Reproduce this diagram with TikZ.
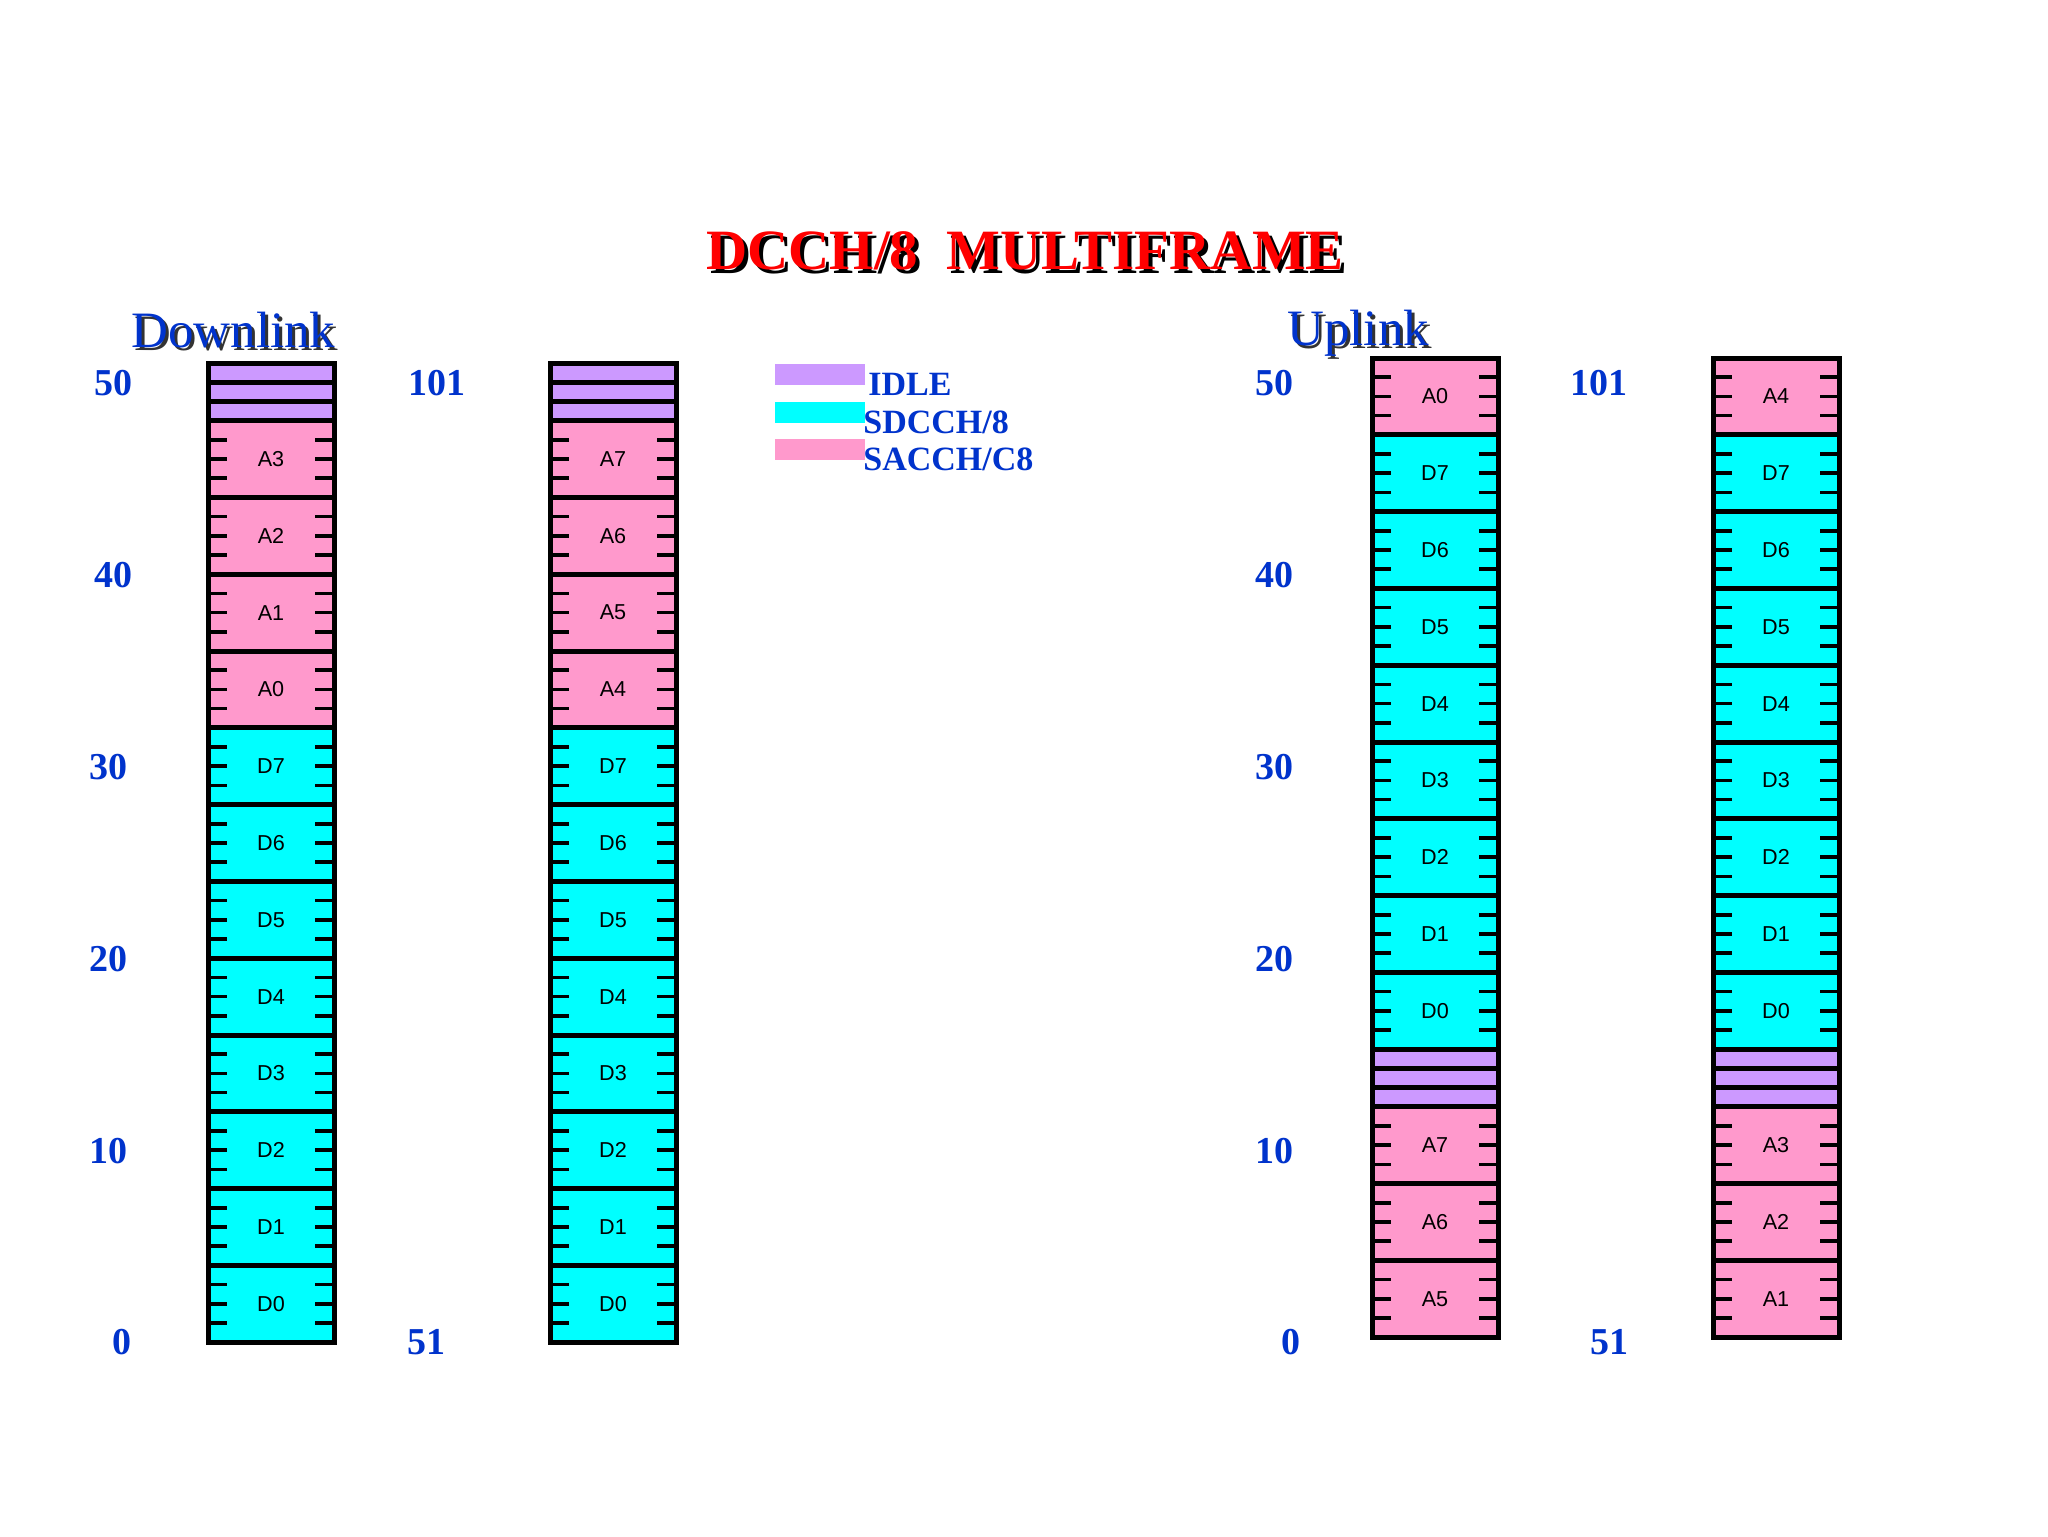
\documentclass[tikz,border=0pt]{standalone}
\usepackage{fontspec}
\setmainfont{Liberation Serif}
\newfontfamily\arialf{Liberation Sans}
\definecolor{idlec}{HTML}{CC99FF}
\definecolor{sdc}{HTML}{00FFFF}
\definecolor{sac}{HTML}{FF99CC}
\definecolor{numblue}{HTML}{0033CC}
\definecolor{titred}{HTML}{FF0000}
\tikzset{
  frameline/.style={line width=2.5pt},
  tickline/.style={line width=1.8pt},
  lbl/.style={font=\arialf\fontsize{10.8}{12}\selectfont, inner sep=0pt},
  num/.style={font=\bfseries\fontsize{19}{20}\selectfont, text=numblue, inner sep=0pt},
  legtxt/.style={font=\bfseries\fontsize{17}{19}\selectfont, text=numblue, inner sep=0pt, anchor=base west},
  legbox/.style={inner sep=0pt, minimum width=45pt, minimum height=10.5pt, anchor=north west},
  head/.style={font=\fontsize{25.5}{28}\selectfont, inner sep=0pt, anchor=base west},
}
% block of 4 frames: #1 name, #2 x left, #3 frame index, #4 column top, #5 colour, #6 label
\newcommand\mfblk[6]{%
  \pgfmathsetmacro\yt{#4+#3*19.2}%
  \pgfmathsetmacro\yb{\yt+4*19.2}%
  \pgfmathsetmacro\xr{#2+126}%
  \filldraw[fill=#5, frameline] (#2,\yt) rectangle (\xr,\yb);
  \foreach \i in {1,2,3}{%
    \pgfmathsetmacro\yy{\yt+\i*19.2}%
    \draw[tickline] (#2,\yy) -- ++(19,0);
    \draw[tickline] (\xr,\yy) -- ++(-19,0);
  }
  \node[lbl] (#1) at ({#2+63},{\yt+38.4}) {#6};
}
% three idle frames: #1 x left, #2 frame index, #3 column top
\newcommand\mfidle[3]{%
  \foreach \i in {0,1,2}{%
    \pgfmathsetmacro\yt{#3+(#2+\i)*19.2}%
    \filldraw[fill=idlec, frameline] (#1,\yt) rectangle ({#1+126},{\yt+19.2});
  }
}
\begin{document}
\begin{tikzpicture}[x=0.5pt,y=-0.5pt]
\useasboundingbox (0,0) rectangle (2048,1536);
\fill[white] (0,0) rectangle (2048,1536);

% title
\node[font=\bfseries\fontsize{28.5}{30}\selectfont, text=black, inner sep=0pt, anchor=base] (titleshadow) at (1029,273) {DCCH/8\ \ MULTIFRAME};
\node[font=\bfseries\fontsize{28.5}{30}\selectfont, text=titred, inner sep=0pt, anchor=base] (title) at (1025,269) {DCCH/8\ \ MULTIFRAME};

% headings
\node[head, text=black!80] (dlshadow) at (134,350) {Downlink};
\node[head, text=numblue] (dl) at (131,347) {Downlink};
\node[head, text=black!80] (ulshadow) at (1290,348) {Uplink};
\node[head, text=numblue] (ul) at (1287,345) {Uplink};

% legend
\node[legbox, fill=idlec] (legidle) at (775,364) {};
\node[legbox, fill=sdc] (legsd) at (775,402) {};
\node[legbox, fill=sac] (legsa) at (775,439) {};
\node[legtxt] (legidlet) at (868,395) {IDLE};
\node[legtxt] (legsdt) at (863,433) {SDCCH/8};
\node[legtxt] (legsat) at (863,470) {SACCH/C8};

% ---- downlink column 1 (x=208, top=363)
\mfidle{208}{0}{363}
\mfblk{d1a3}{208}{3}{363}{sac}{A3}
\mfblk{d1a2}{208}{7}{363}{sac}{A2}
\mfblk{d1a1}{208}{11}{363}{sac}{A1}
\mfblk{d1a0}{208}{15}{363}{sac}{A0}
\mfblk{d1d7}{208}{19}{363}{sdc}{D7}
\mfblk{d1d6}{208}{23}{363}{sdc}{D6}
\mfblk{d1d5}{208}{27}{363}{sdc}{D5}
\mfblk{d1d4}{208}{31}{363}{sdc}{D4}
\mfblk{d1d3}{208}{35}{363}{sdc}{D3}
\mfblk{d1d2}{208}{39}{363}{sdc}{D2}
\mfblk{d1d1}{208}{43}{363}{sdc}{D1}
\mfblk{d1d0}{208}{47}{363}{sdc}{D0}
\draw[frameline] (208,363) rectangle (334,{363+51*19.2});

% ---- downlink column 2 (x=550)
\mfidle{550}{0}{363}
\mfblk{d2a7}{550}{3}{363}{sac}{A7}
\mfblk{d2a6}{550}{7}{363}{sac}{A6}
\mfblk{d2a5}{550}{11}{363}{sac}{A5}
\mfblk{d2a4}{550}{15}{363}{sac}{A4}
\mfblk{d2d7}{550}{19}{363}{sdc}{D7}
\mfblk{d2d6}{550}{23}{363}{sdc}{D6}
\mfblk{d2d5}{550}{27}{363}{sdc}{D5}
\mfblk{d2d4}{550}{31}{363}{sdc}{D4}
\mfblk{d2d3}{550}{35}{363}{sdc}{D3}
\mfblk{d2d2}{550}{39}{363}{sdc}{D2}
\mfblk{d2d1}{550}{43}{363}{sdc}{D1}
\mfblk{d2d0}{550}{47}{363}{sdc}{D0}
\draw[frameline] (550,363) rectangle (676,{363+51*19.2});

% ---- uplink column 1 (x=1372, top=358)
\mfblk{u1a0}{1372}{0}{358}{sac}{A0}
\mfblk{u1d7}{1372}{4}{358}{sdc}{D7}
\mfblk{u1d6}{1372}{8}{358}{sdc}{D6}
\mfblk{u1d5}{1372}{12}{358}{sdc}{D5}
\mfblk{u1d4}{1372}{16}{358}{sdc}{D4}
\mfblk{u1d3}{1372}{20}{358}{sdc}{D3}
\mfblk{u1d2}{1372}{24}{358}{sdc}{D2}
\mfblk{u1d1}{1372}{28}{358}{sdc}{D1}
\mfblk{u1d0}{1372}{32}{358}{sdc}{D0}
\mfidle{1372}{36}{358}
\mfblk{u1a7}{1372}{39}{358}{sac}{A7}
\mfblk{u1a6}{1372}{43}{358}{sac}{A6}
\mfblk{u1a5}{1372}{47}{358}{sac}{A5}
\draw[frameline] (1372,358) rectangle (1498,{358+51*19.2});

% ---- uplink column 2 (x=1713)
\mfblk{u2a4}{1713}{0}{358}{sac}{A4}
\mfblk{u2d7}{1713}{4}{358}{sdc}{D7}
\mfblk{u2d6}{1713}{8}{358}{sdc}{D6}
\mfblk{u2d5}{1713}{12}{358}{sdc}{D5}
\mfblk{u2d4}{1713}{16}{358}{sdc}{D4}
\mfblk{u2d3}{1713}{20}{358}{sdc}{D3}
\mfblk{u2d2}{1713}{24}{358}{sdc}{D2}
\mfblk{u2d1}{1713}{28}{358}{sdc}{D1}
\mfblk{u2d0}{1713}{32}{358}{sdc}{D0}
\mfidle{1713}{36}{358}
\mfblk{u2a3}{1713}{39}{358}{sac}{A3}
\mfblk{u2a2}{1713}{43}{358}{sac}{A2}
\mfblk{u2a1}{1713}{47}{358}{sac}{A1}
\draw[frameline] (1713,358) rectangle (1839,{358+51*19.2});

% ---- frame numbers
\node[num] (dn50) at (113.6,383) {50};
\node[num] (dn40) at (113.6,575) {40};
\node[num] (dn30) at (108.4,767) {30};
\node[num] (dn20) at (108.4,959) {20};
\node[num] (dn10) at (108.4,1151) {10};
\node[num] (dn0) at (121.5,1342) {0};
\node[num] (dn101) at (437,383) {101};
\node[num] (dn51) at (426.5,1342) {51};
\node[num] (un50) at (1274.8,383) {50};
\node[num] (un40) at (1274.8,575) {40};
\node[num] (un30) at (1274.8,767) {30};
\node[num] (un20) at (1274.8,959) {20};
\node[num] (un10) at (1274.8,1151) {10};
\node[num] (un0) at (1290.5,1342) {0};
\node[num] (un101) at (1598.7,383) {101};
\node[num] (un51) at (1609,1342) {51};
\end{tikzpicture}
\end{document}
